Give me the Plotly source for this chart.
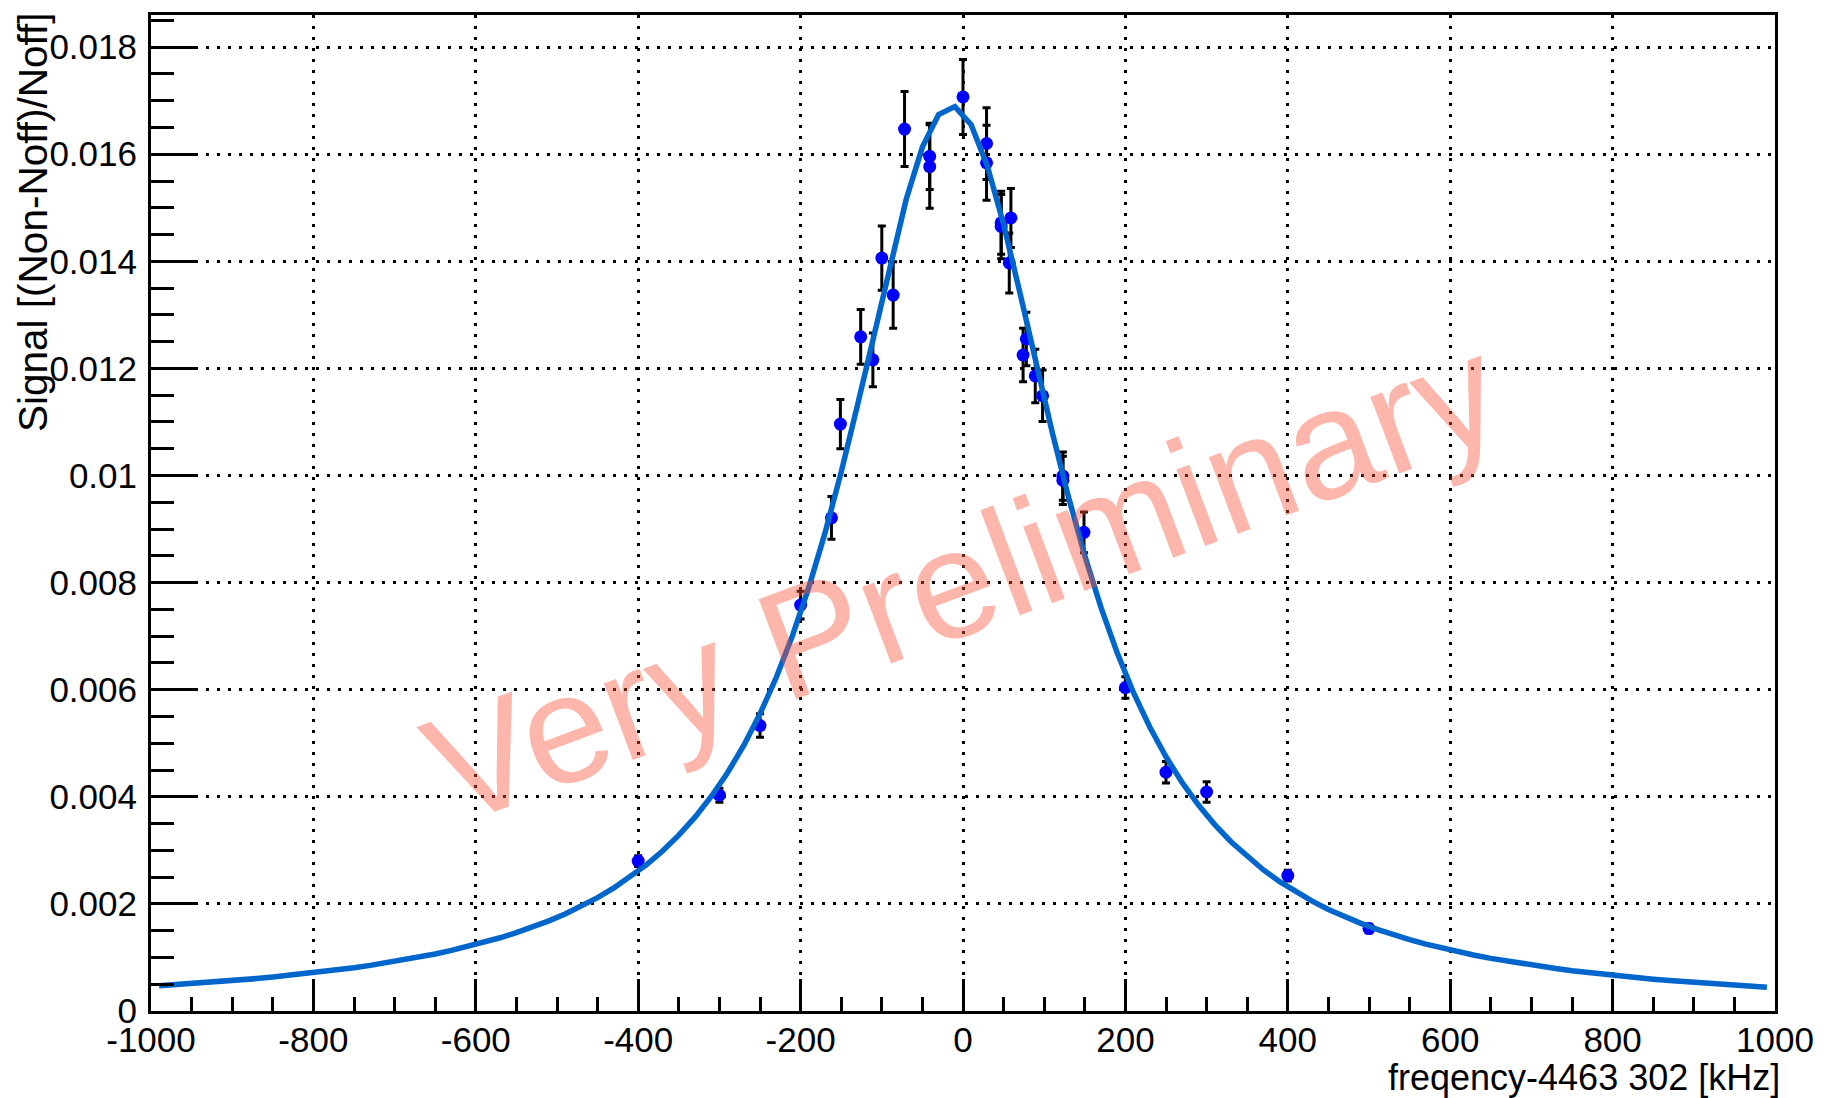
import numpy as np
import plotly.graph_objects as go

# Measured resonance points: frequency offset [kHz], signal, and uncertainty
freq_offset = [-400, -300, -250, -200, -162, -151, -126, -111, -100, -86,
               -72, -41, -41, 0, 29, 29, 47, 47, 59, 57,
               74, 78, 89, 98, 123, 123, 149, 200, 250, 300,
               400, 500]
signal = [0.00280, 0.00403, 0.00533, 0.00758, 0.00921, 0.01096, 0.01259, 0.01216, 0.01406, 0.01337,
          0.01647, 0.01596, 0.01577, 0.01707, 0.01620, 0.01584, 0.01472, 0.01465, 0.01481, 0.01397,
          0.01225, 0.01255, 0.01186, 0.01149, 0.00999, 0.00991, 0.00894, 0.00604, 0.00446, 0.00409,
          0.00253, 0.00154]
signal_err = [0.00010, 0.00013, 0.00022, 0.00026, 0.00040, 0.00046, 0.00051, 0.00050, 0.00060, 0.00062,
              0.00070, 0.00062, 0.00078, 0.00070, 0.00067, 0.00070, 0.00059, 0.00060, 0.00055, 0.00056,
              0.00050, 0.00050, 0.00050, 0.00048, 0.00045, 0.00045, 0.00038, 0.00020, 0.00020, 0.00019,
              0.00010, 0.00008]

# Lorentzian fit result
fit_peak = 0.0169      # peak height
fit_center = -14.0     # kHz
fit_hwhm = 165.0       # half width at half maximum, kHz
fit_range = (-990, 990)
fit_npoints = 100

x_ticks = [-1000, -800, -600, -400, -200, 0, 200, 400, 600, 800, 1000]
x_ticklabels = ["-1000", "-800", "-600", "-400", "-200", "0", "200", "400", "600", "800", "1000"]
y_ticks = [0, 0.002, 0.004, 0.006, 0.008, 0.010, 0.012, 0.014, 0.016, 0.018]
y_ticklabels = ["0", "0.002", "0.004", "0.006", "0.008", "0.01", "0.012", "0.014", "0.016", "0.018"]

x_title = "freqency-4463 302 [kHz]"
y_title = "Signal [(Non-Noff)/Noff]"
watermark = "Very Preliminary"

FONT = "Liberation Sans, Arial, Helvetica, sans-serif"

fit_x = np.linspace(fit_range[0], fit_range[1], fit_npoints)
fit_y = fit_peak / (1.0 + ((fit_x - fit_center) / fit_hwhm) ** 2)

fig = go.Figure()

fig.add_trace(go.Scatter(
    x=freq_offset, y=signal, mode="markers",
    marker=dict(color="rgb(0,0,255)", size=13, symbol="circle"),
    error_y=dict(type="data", array=signal_err, visible=True,
                 color="black", thickness=3, width=4),
    showlegend=False,
))

fig.add_trace(go.Scatter(
    x=fit_x, y=fit_y, mode="lines",
    line=dict(color="#0066cc", width=5.5),
    showlegend=False,
))

minor_x = [v for v in range(-1000, 1001, 50) if v % 200 != 0]
minor_y = [round(v * 0.0005, 4) for v in range(0, 38) if v % 4 != 0]

fig.update_xaxes(
    range=[-1000, 1000],
    tickmode="array", tickvals=x_ticks, ticktext=x_ticklabels,
    ticks="inside", ticklen=32, tickwidth=2.5, tickcolor="black",
    minor=dict(tickmode="array", tickvals=minor_x, ticks="inside",
               ticklen=14, tickwidth=2.5, tickcolor="black", showgrid=False),
    showline=True, linecolor="black", linewidth=3, mirror=True,
    showgrid=True, gridcolor="black", gridwidth=3, griddash="3px,8px",
    zeroline=False,
    tickfont=dict(family=FONT, size=35, color="black"),
    ticklabelstandoff=-4,
)
fig.update_yaxes(
    range=[0, 0.0186],
    tickmode="array", tickvals=y_ticks, ticktext=y_ticklabels,
    ticks="inside", ticklen=47, tickwidth=2.5, tickcolor="black",
    minor=dict(tickmode="array", tickvals=minor_y, ticks="inside",
               ticklen=23, tickwidth=2.5, tickcolor="black", showgrid=False),
    showline=True, linecolor="black", linewidth=3, mirror=True,
    showgrid=True, gridcolor="black", gridwidth=3, griddash="3px,8px",
    zeroline=False,
    tickfont=dict(family=FONT, size=35, color="black"),
    ticklabelstandoff=4,
)

annotations = [
    dict(text=x_title, xref="paper", yref="paper", x=1.0043, y=-0.044,
         xanchor="right", yanchor="top", showarrow=False,
         font=dict(family=FONT, size=36, color="black")),
    dict(text=y_title, xref="paper", yref="paper", x=-0.073, y=1.004,
         xanchor="center", yanchor="top", textangle=-90, showarrow=False,
         font=dict(family=FONT, size=40.5, color="black")),
    dict(text=watermark, xref="x", yref="y", x=0, y=0.00805,
         xanchor="center", yanchor="middle", textangle=-20.5, showarrow=False,
         font=dict(family=FONT, size=155, color="rgba(248,80,55,0.42)")),
]

fig.update_layout(
    width=1826, height=1098,
    margin=dict(l=151, r=49, t=14, b=87),
    paper_bgcolor="white", plot_bgcolor="white",
    annotations=annotations,
    showlegend=False,
)

fig.write_html("out.html")
